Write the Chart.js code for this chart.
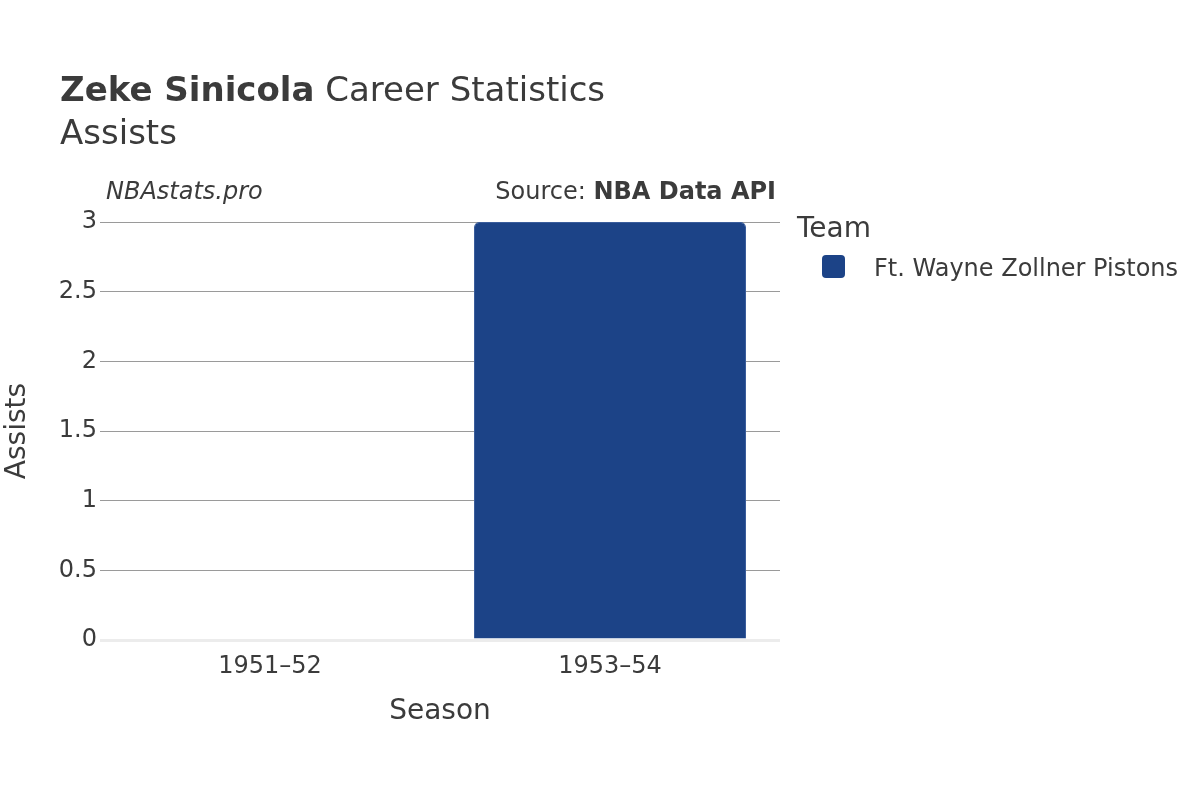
<!DOCTYPE html>
<html>
<head>
<meta charset="utf-8">
<script src="https://cdn.jsdelivr.net/npm/chart.js@4.4.0/dist/chart.umd.min.js"></script>
<style>
  html, body { margin: 0; padding: 0; background: #fff; }
  #wrap { width: 1200px; height: 800px; position: relative; }
</style>
</head>
<body>
<div id="wrap"><canvas id="chart" width="1200" height="800"></canvas></div>
<script>
// data
const seasons = ['1951–52', '1953–54'];
const assists = [0, 3];
const teamName = 'Ft. Wayne Zollner Pistons';
const teamColor = '#1c4387';
const yTicks = [0, 0.5, 1, 1.5, 2, 2.5, 3];

const FONT = "'DejaVu Sans', sans-serif";
const TXT = '#3b3b3b';

// titles, credits and legend drawn on the canvas
const decorations = {
  id: 'decorations',
  afterDraw(chart) {
    const c = chart.ctx;
    c.save();
    c.fillStyle = TXT;
    c.textBaseline = 'alphabetic';
    c.textAlign = 'left';
    c.font = 'bold 34px ' + FONT;
    const bold = 'Zeke Sinicola';
    c.fillText(bold, 60, 101);
    const w = c.measureText(bold).width;
    c.font = '34px ' + FONT;
    c.fillText(' Career Statistics', 60 + w, 101);
    c.fillText('Assists', 60, 144);

    c.font = 'italic 24px ' + FONT;
    c.fillText('NBAstats.pro', 106, 199);

    c.textAlign = 'right';
    c.font = 'bold 24px ' + FONT;
    const src = 'NBA Data API';
    c.fillText(src, 776, 199);
    const sw = c.measureText(src).width;
    c.font = '24px ' + FONT;
    c.fillText('Source: ', 776 - sw, 199);

    // legend
    c.textAlign = 'left';
    c.font = '28px ' + FONT;
    c.fillText('Team', 797, 237);
    const ds = chart.data.datasets[0];
    c.fillStyle = ds.backgroundColor;
    c.beginPath();
    c.roundRect(822, 255, 23, 23, 4);
    c.fill();
    c.fillStyle = TXT;
    c.font = '24px ' + FONT;
    c.fillText(ds.label, 874, 276);
    c.restore();
  }
};

new Chart(document.getElementById('chart'), {
  type: 'bar',
  data: {
    labels: seasons,
    datasets: [{
      label: teamName,
      data: assists,
      backgroundColor: teamColor,
      borderColor: '#3a5d9c',
      borderWidth: 1,
      borderRadius: { topLeft: 5, topRight: 5, bottomLeft: 0, bottomRight: 0 },
      borderSkipped: 'bottom',
      barPercentage: 0.8,
      categoryPercentage: 1
    }]
  },
  options: {
    responsive: false,
    animation: false,
    devicePixelRatio: 1,
    layout: { padding: { left: 0, top: 222, right: 420, bottom: 67 } },
    plugins: { legend: { display: false }, tooltip: { enabled: false } },
    scales: {
      x: {
        grid: { display: false },
        border: { display: false },
        ticks: { color: TXT, font: { family: FONT, size: 24 }, padding: 4 },
        title: { display: true, text: 'Season', color: TXT, font: { family: FONT, size: 28 } },
        afterFit(s) { s.height = 93; }
      },
      y: {
        min: 0, max: 3,
        afterBuildTicks(s) { s.ticks = yTicks.map(v => ({ value: v })); },
        grid: {
          drawTicks: false,
          color: ctx => ctx.tick && ctx.tick.value === 0 ? '#ececec' : '#9a9a9a',
          lineWidth: ctx => ctx.tick && ctx.tick.value === 0 ? 3 : 1
        },
        border: { display: false },
        ticks: {
          color: TXT, font: { family: FONT, size: 24 }, padding: 3,
          callback: v => String(v)
        },
        title: {
          display: true, text: 'Assists', color: TXT,
          font: { family: FONT, size: 28 }, padding: { top: 1, bottom: 4 }
        },
        afterFit(s) { s.width = 100; }
      }
    }
  },
  plugins: [decorations]
});
</script>
</body>
</html>
